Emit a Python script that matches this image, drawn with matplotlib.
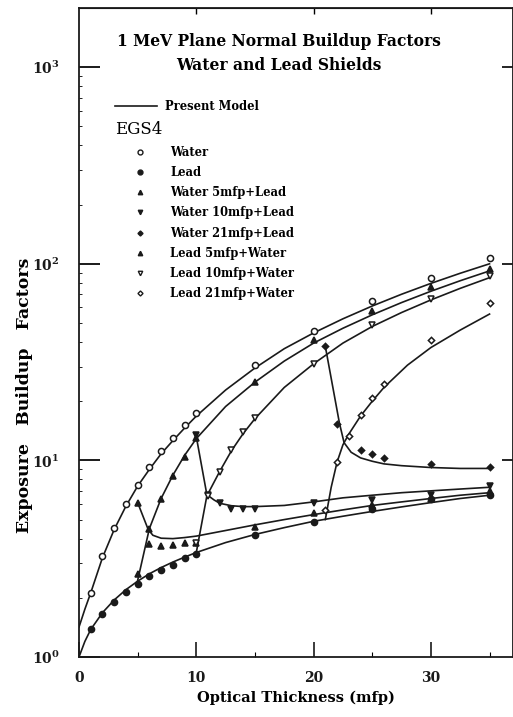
import matplotlib
matplotlib.use("Agg")
import matplotlib.pyplot as plt
from matplotlib.lines import Line2D
from matplotlib.ticker import LogLocator, NullFormatter, FixedLocator

# ---------------- data ----------------
# EGS4 points
water_x = [1, 2, 3, 4, 5, 6, 7, 8, 9, 10, 15, 20, 25, 30, 35]
water_y = [2.12, 3.25, 4.52, 5.98, 7.5, 9.27, 11.2, 13.0, 15.2, 17.5, 30.4, 45.6, 64.8, 84.9, 107]
lead_x = [1, 2, 3, 4, 5, 6, 7, 8, 9, 10, 15, 20, 25, 30, 35]
lead_y = [1.38, 1.66, 1.91, 2.14, 2.36, 2.57, 2.76, 2.95, 3.17, 3.36, 4.16, 4.86, 5.64, 6.35, 6.7]
w5l_x = [5, 6, 7, 8, 9, 10, 15, 20, 25, 30, 35]
w5l_y = [6.08, 3.75, 3.67, 3.7, 3.78, 3.8, 4.59, 5.37, 5.9, 6.4, 6.95]
w10l_x = [10, 11, 12, 13, 14, 15, 20, 25, 30, 35]
w10l_y = [13.4, 6.7, 6.04, 5.69, 5.69, 5.69, 6.04, 6.32, 6.7, 7.38]
w21l_x = [21, 22, 24, 25, 26, 30, 35]
w21l_y = [38.1, 15.3, 11.3, 10.8, 10.3, 9.56, 9.27]
l5w_x = [5, 6, 7, 8, 9, 10, 15, 20, 25, 30, 35]
l5w_y = [2.63, 4.5, 6.4, 8.3, 10.4, 13.0, 25.1, 40.9, 57.4, 76.4, 93.6]
l10w_x = [10, 11, 12, 13, 14, 15, 20, 25, 30, 35]
l10w_y = [3.8, 6.6, 8.74, 11.3, 13.9, 16.5, 31.1, 48.8, 65.9, 86.5]
l21w_x = [21, 22, 23, 24, 25, 26, 30, 35]
l21w_y = [5.58, 9.76, 13.3, 17.0, 20.7, 24.6, 40.9, 62.9]

# Present model curves
m_water_x = [0, 0.5, 1, 2, 3, 4, 5, 6, 7, 8, 9, 10, 12.5, 15, 17.5, 20, 22.5, 25, 27.5, 30, 32.5, 35]
m_water_y = [1.42, 1.75, 2.12, 3.2, 4.45, 5.85, 7.4, 9.0, 10.8, 12.6, 14.6, 16.8, 22.8, 29.5, 37, 44.5, 52.5, 61, 70, 79.5, 89.5, 100]
m_lead_x = [0, 0.5, 1, 2, 3, 4, 5, 6, 7, 8, 9, 10, 12.5, 15, 17.5, 20, 22.5, 25, 27.5, 30, 32.5, 35]
m_lead_y = [1.0, 1.2, 1.38, 1.68, 1.95, 2.2, 2.43, 2.65, 2.85, 3.04, 3.22, 3.4, 3.82, 4.2, 4.55, 4.9, 5.2, 5.5, 5.8, 6.1, 6.4, 6.65]
m_l5w_x = [5, 6, 7, 8, 9, 10, 12.5, 15, 17.5, 20, 22.5, 25, 27.5, 30, 32.5, 35]
m_l5w_y = [2.45, 4.5, 6.4, 8.4, 10.6, 12.9, 18.8, 25.0, 32, 39.5, 47, 55, 63.5, 72.5, 82, 92]
m_w5l_x = [5, 5.9, 6.3, 7, 8, 9, 10, 12.5, 15, 17.5, 20, 22.5, 25, 27.5, 30, 32.5, 35]
m_w5l_y = [6.1, 4.45, 4.16, 4.02, 4.0, 4.05, 4.12, 4.4, 4.7, 5.0, 5.3, 5.6, 5.9, 6.15, 6.4, 6.65, 6.85]
m_w10l_x = [10, 10.9, 11.5, 12, 13, 14, 15, 17.5, 20, 22.5, 25, 27.5, 30, 32.5, 35]
m_w10l_y = [13.2, 6.7, 6.3, 6.05, 5.88, 5.82, 5.82, 5.9, 6.15, 6.45, 6.65, 6.85, 7.0, 7.15, 7.3]
m_l10w_x = [10, 10.9, 12, 13, 14, 15, 17.5, 20, 22.5, 25, 27.5, 30, 32.5, 35]
m_l10w_y = [3.4, 6.6, 8.8, 11.2, 13.7, 16.3, 23.5, 31, 39.5, 48, 56.5, 65.5, 75, 85]
m_w21l_x = [21, 22.2, 22.6, 23.2, 24, 25, 26, 27.5, 30, 32.5, 35]
m_w21l_y = [38, 15.5, 12.3, 11.0, 10.3, 9.9, 9.6, 9.4, 9.2, 9.1, 9.1]
m_l21w_x = [21, 21.5, 22, 22.5, 23, 24, 25, 26, 28, 30, 32.5, 35]
m_l21w_y = [5.0, 7.3, 9.8, 12.0, 13.6, 16.8, 20.0, 23.5, 30.5, 37.5, 46, 55.5]

legend_labels = ["Water", "Lead", "Water 5mfp+Lead", "Water 10mfp+Lead",
                 "Water 21mfp+Lead", "Lead 5mfp+Water", "Lead 10mfp+Water",
                 "Lead 21mfp+Water"]
title_lines = ["1 MeV Plane Normal Buildup Factors", "Water and Lead Shields"]

# ---------------- style ----------------
SERIF = "DejaVu Serif"
plt.rcParams["font.family"] = SERIF
plt.rcParams["font.weight"] = "bold"
plt.rcParams["mathtext.fontset"] = "custom"
plt.rcParams["mathtext.rm"] = "DejaVu Serif:bold"
plt.rcParams["mathtext.it"] = "DejaVu Serif:bold"
plt.rcParams["mathtext.bf"] = "DejaVu Serif:bold"
plt.rcParams["mathtext.default"] = "rm"

W, H = 513, 717
fig = plt.figure(figsize=(W / 100, H / 100), dpi=100)
ax = fig.add_axes([79 / W, 60 / H, 434 / W, 649 / H])
ax.set_yscale("log")
ax.set_xlim(0, 37)
ax.set_ylim(1, 2000)

K = "#1a1a1a"
LW = 1.2

# model lines
for mx, my in [(m_water_x, m_water_y), (m_lead_x, m_lead_y), (m_l5w_x, m_l5w_y),
               (m_w5l_x, m_w5l_y), (m_w10l_x, m_w10l_y), (m_l10w_x, m_l10w_y),
               (m_w21l_x, m_w21l_y), (m_l21w_x, m_l21w_y)]:
    ax.plot(mx, my, color=K, lw=LW, zorder=2)

# EGS4 points
styles = [
    (water_x, water_y, "o", "white"),
    (lead_x, lead_y, "o", K),
    (w5l_x, w5l_y, "^", K),
    (w10l_x, w10l_y, "v", K),
    (w21l_x, w21l_y, "D", K),
    (l5w_x, l5w_y, "^", K),
    (l10w_x, l10w_y, "v", "white"),
    (l21w_x, l21w_y, "D", "white"),
]
sizes = [4.4, 4.4, 4.0, 4.0, 3.2, 4.0, 4.0, 3.2]
handles = []
for (xs, ys, m, fc), s in zip(styles, sizes):
    ax.plot(xs, ys, ls="none", marker=m, ms=s, mfc=fc, mec=K, mew=1.1, zorder=3)
    handles.append(Line2D([], [], ls="none", marker=m, ms=s * 0.8, mfc=fc, mec=K, mew=1.0))

# ticks
ax.yaxis.set_major_locator(LogLocator(base=10, numticks=10))
ax.yaxis.set_minor_locator(LogLocator(base=10, subs=range(2, 10), numticks=20))
ax.yaxis.set_minor_formatter(NullFormatter())
ax.xaxis.set_major_locator(FixedLocator([0, 10, 20, 30]))
ax.xaxis.set_minor_locator(FixedLocator([5, 15, 25, 35]))
ax.tick_params(axis="y", which="major", direction="in", length=15, width=1.4,
               labelsize=10, pad=14, right=False, colors=K)
ax.tick_params(axis="y", which="minor", direction="in", length=2.5, width=0.6, right=False)
ax.tick_params(axis="x", which="major", direction="in", length=11, width=1.2,
               labelsize=10, pad=10, top=False, colors=K)
ax.tick_params(axis="x", which="minor", direction="in", length=3.5, width=0.8, top=False)

sec_r = ax.secondary_yaxis("right")
sec_r.set_yticks([10, 100, 1000])
sec_r.yaxis.set_minor_locator(FixedLocator([]))
sec_r.tick_params(direction="in", length=8, width=1.2, labelright=False)
sec_t = ax.secondary_xaxis("top")
sec_t.set_xticks([10, 20, 30])
sec_t.xaxis.set_minor_locator(FixedLocator([]))
sec_t.tick_params(direction="in", length=4, width=1.0, labeltop=False)

for sp in ax.spines.values():
    sp.set_linewidth(1.3)
    sp.set_color(K)

ax.set_xlabel("Optical Thickness (mfp)", fontsize=10.5, fontweight="bold", labelpad=4)
ax.set_ylabel("Exposure   Buildup   Factors", fontsize=12.5, fontweight="bold")
ax.yaxis.set_label_coords(-0.106, 0.403)

# title
fig.text(279 / W, 1 - 42 / H, title_lines[0], ha="center", va="center",
         fontsize=11.2, fontweight="bold")
fig.text(279 / W, 1 - 65 / H, title_lines[1], ha="center", va="center",
         fontsize=11.2, fontweight="bold")

# legend
leg1 = ax.legend([Line2D([], [], color=K, lw=LW)], ["Present Model"],
                 loc="center left", bbox_to_anchor=((115 - 79) / 434, 1 - (107 - 8) / 649),
                 frameon=False, borderpad=0, borderaxespad=0, handlelength=3.6,
                 handletextpad=0.7, prop={"family": SERIF, "weight": "bold", "size": 8.3})
ax.add_artist(leg1)
ax.text((115 - 79) / 434, 1 - (130 - 8) / 649, "EGS4", transform=ax.transAxes,
        ha="left", va="center", fontsize=12, fontweight="normal")
leg2 = ax.legend(handles, legend_labels, loc="upper left",
                 bbox_to_anchor=((134 - 79) / 434, 1 - (146 - 8) / 649),
                 frameon=False, borderpad=0, borderaxespad=0, handlelength=1.0,
                 handletextpad=2.15, labelspacing=0.62,
                 prop={"family": SERIF, "weight": "bold", "size": 8.3})

fig.savefig("out.png", dpi=100, facecolor="white")
